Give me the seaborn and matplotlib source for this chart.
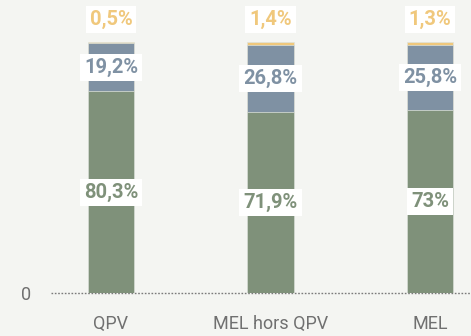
import matplotlib
matplotlib.use("Agg")
import matplotlib.pyplot as plt
import seaborn as sns
import pandas as pd

# Share of each group (percent), stacked bottom to top
categories = ["QPV", "MEL hors QPV", "MEL"]
green_vals = [80.3, 71.9, 73.0]
blue_vals = [19.2, 26.8, 25.8]
yellow_vals = [0.5, 1.4, 1.3]

GREEN = "#7f917a"
BLUE = "#7f91a3"
YELLOW = "#f0c87c"
BG = "#f4f5f2"
TICK = "#707070"

sns.set_theme(style="white")
plt.rcParams["font.family"] = ["Roboto", "DejaVu Sans"]

df = pd.DataFrame({
    "cat": categories,
    "green": green_vals,
    "blue": blue_vals,
    "yellow": yellow_vals,
})
df["mid"] = df["green"] + df["blue"]
df["top"] = df["mid"] + df["yellow"]

fig = plt.figure(figsize=(4.71, 3.36), dpi=100, facecolor=BG)
ax = fig.add_axes([51 / 471, 43 / 336, 420 / 471, 293 / 336])
ax.set_facecolor(BG)

# Dotted baseline at zero, behind the bars
ax.axhline(0, color="#7a7a7a", lw=1.0, ls=(0, (1.2, 1.2)), zorder=1, clip_on=False)

width = 0.29
edge = dict(edgecolor="#dfe3dc", linewidth=0.5, zorder=2)
# Cumulative totals drawn largest first so each layer shows its own segment
sns.barplot(data=df, x="cat", y="top", color=YELLOW, width=width, ax=ax, saturation=1, **edge)
sns.barplot(data=df, x="cat", y="mid", color=BLUE, width=width, ax=ax, saturation=1, **edge)
sns.barplot(data=df, x="cat", y="green", color=GREEN, width=width, ax=ax, saturation=1, **edge)

ax.set_xlim(-0.376, 2.257)
ax.set_ylim(0, 116.7)

def fmt(v):
    return f"{v:g}".replace(".", ",") + "%"

box = dict(boxstyle="square,pad=0.2", fc="white", ec="none")
label_kw = dict(ha="center", va="center", fontsize=14.5, fontweight="bold", bbox=box, zorder=5)
for i, row in df.iterrows():
    ax.text(i, row["green"] / 2, fmt(row["green"]), color=GREEN, **label_kw)
    ax.text(i, row["green"] + row["blue"] / 2, fmt(row["blue"]), color=BLUE, **label_kw)
    ax.annotate(fmt(row["yellow"]), xy=(i, row["top"]), xytext=(0, 16),
                textcoords="offset points", color=YELLOW, **label_kw)

ax.set_yticks([0])
ax.set_yticklabels(["0"])
ax.set_xlabel("")
ax.set_ylabel("")
ax.tick_params(axis="x", length=0, pad=16, labelsize=13, labelcolor=TICK)
ax.tick_params(axis="y", length=0, pad=14, labelsize=13, labelcolor=TICK)
for s in ax.spines.values():
    s.set_visible(False)

fig.savefig("out.png", dpi=100, facecolor=BG)
